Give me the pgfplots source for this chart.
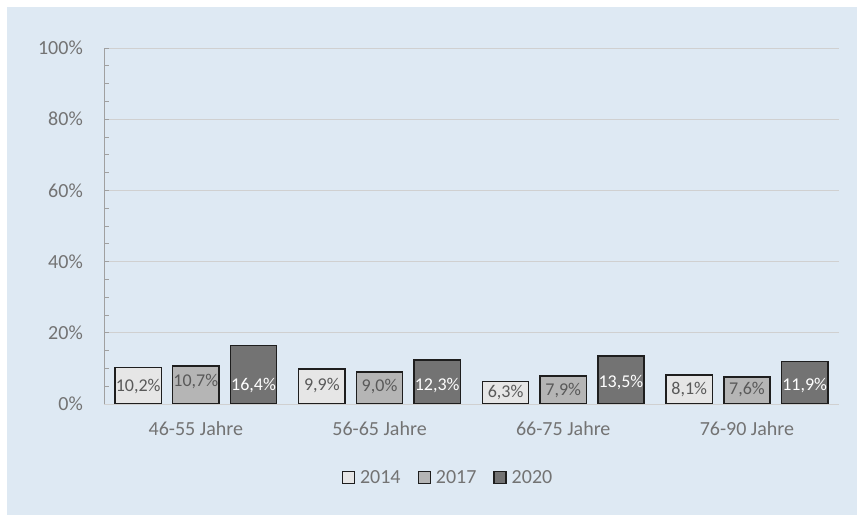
\documentclass[border=0pt]{standalone}
\usepackage{fontspec}
\setmainfont{Carlito}
\usepackage{pgfplots}
\pgfplotsset{compat=1.18}
\usepackage{pgfplotstable}
\definecolor{bg}{RGB}{222,233,243}
\definecolor{cA}{RGB}{230,230,230}
\definecolor{cB}{RGB}{181,181,181}
\definecolor{cC}{RGB}{115,115,115}
\definecolor{txt}{RGB}{115,115,115}
\definecolor{lab}{RGB}{89,89,89}
\definecolor{gridc}{RGB}{208,208,208}
\definecolor{axc}{RGB}{160,160,160}
\definecolor{edge}{RGB}{30,30,30}

\pgfplotstableread{
x y ly
-0.314 10.2 3.65
0.686 9.9 3.9
1.686 6.3 1.7
2.686 8.1 2.7
}\tA
\pgfplotstableread{
x y ly
0 10.7 4.9
1 9.0 3.65
2 7.9 2.5
3 7.6 2.7
}\tB
\pgfplotstableread{
x y ly
0.314 16.4 3.9
1.314 12.3 3.8
2.314 13.5 4.5
3.314 11.9 3.9
}\tC

\begin{document}
\begin{tikzpicture}
\useasboundingbox (0,0) rectangle (857pt,515pt);
\fill[white] (0,0) rectangle (857pt,515pt);
\fill[bg] (7pt,0) rectangle (857pt,508pt);
\begin{axis}[
  at={(104pt,111pt)}, anchor=south west,
  scale only axis, width=734.8pt, height=356pt,
  xmin=-0.5, xmax=3.5, ymin=0, ymax=100,
  xtick={0,1,2,3},
  xticklabels={46-55 Jahre,56-65 Jahre,66-75 Jahre,76-90 Jahre},
  major x tick style={draw=none},
  ytick={0,20,...,100}, minor y tick num=3,
  yticklabel={\pgfmathprintnumber{\tick}\%},
  ymajorgrids, major grid style={draw=gridc, line width=0.9pt},
  axis x line*=bottom, axis y line*=left,
  x axis line style={draw=gridc, line width=1pt},
  y axis line style={draw=axc, line width=1pt},
  tick align=inside,
  y tick style={draw=axc, line width=0.8pt},
  major tick length=5pt, minor tick length=5pt,
  tick label style={font=\fontsize{20}{24}\selectfont, text=txt},
  /pgf/number format/assume math mode=true,
  yticklabel style={inner sep=0pt, xshift=-21pt},
  xticklabel style={anchor=base, inner sep=0pt, yshift=-31pt},
  axis on top,
  clip=false,
  legend columns=3,
  legend style={at={(0.4668,-0.2065)}, anchor=center, draw=none, fill=none,
    font=\fontsize{20}{24}\selectfont, text=txt,
    nodes={inner sep=0pt},
    /tikz/every odd column/.append style={column sep=5pt},
    /tikz/every even column/.append style={column sep=17pt}},
]
\addplot[ybar, bar width=0.252, bar shift=0pt, fill=cA, draw=edge, line width=1.5pt,
  legend image code/.code={\draw[fill=cA, draw=edge, line width=1.3pt] (0pt,-6pt) rectangle (12pt,6pt);}]
  table[x=x,y=y]{\tA};
\addlegendentry{2014}
\addplot[ybar, bar width=0.252, bar shift=0pt, fill=cB, draw=edge, line width=1.5pt,
  legend image code/.code={\draw[fill=cB, draw=edge, line width=1.3pt] (0pt,-6pt) rectangle (12pt,6pt);}]
  table[x=x,y=y]{\tB};
\addlegendentry{2017}
\addplot[ybar, bar width=0.252, bar shift=0pt, fill=cC, draw=edge, line width=1.5pt,
  legend image code/.code={\draw[fill=cC, draw=edge, line width=1.3pt] (0pt,-6pt) rectangle (12pt,6pt);}]
  table[x=x,y=y]{\tC};
\addlegendentry{2020}

\addplot[draw=none, mark=none, forget plot, point meta=explicit,
  nodes near coords={\pgfmathprintnumber[fixed,fixed zerofill,precision=1,use comma]{\pgfplotspointmeta}\%},
  every node near coord/.append style={anchor=base, inner sep=0pt, font=\fontsize{18}{20}\selectfont, text=lab}]
  table[x=x,y=ly,meta=y]{\tA};
\addplot[draw=none, mark=none, forget plot, point meta=explicit,
  nodes near coords={\pgfmathprintnumber[fixed,fixed zerofill,precision=1,use comma]{\pgfplotspointmeta}\%},
  every node near coord/.append style={anchor=base, inner sep=0pt, font=\fontsize{18}{20}\selectfont, text=lab}]
  table[x=x,y=ly,meta=y]{\tB};
\addplot[draw=none, mark=none, forget plot, point meta=explicit,
  nodes near coords={\pgfmathprintnumber[fixed,fixed zerofill,precision=1,use comma]{\pgfplotspointmeta}\%},
  every node near coord/.append style={anchor=base, inner sep=0pt, font=\fontsize{18}{20}\selectfont, text=white}]
  table[x=x,y=ly,meta=y]{\tC};
\end{axis}
\end{tikzpicture}
\end{document}
